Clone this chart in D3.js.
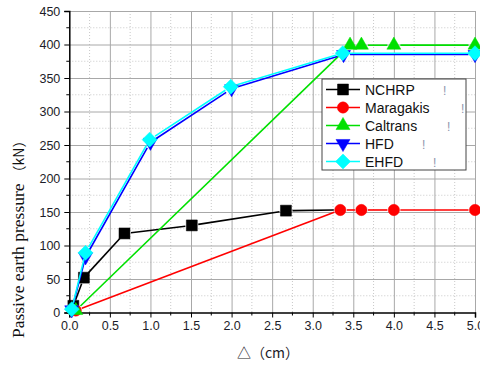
<!DOCTYPE html>
<html>
<head>
<meta charset="utf-8">
<script src="https://cdn.jsdelivr.net/npm/d3@7"></script>
<style>
  body { margin: 0; background: #fff; }
  .tick text { font-family: Arial, "Liberation Sans", sans-serif; font-size: 12.5px; fill: #1c1c28; }
</style>
</head>
<body>
<div id="graph"></div>
<script>
// data
var seriesNames = ["NCHRP", "Maragakis", "Caltrans", "HFD", "EHFD"];
var nchrpX = [0.05, 0.18, 0.68, 1.51, 2.67, 3.34];
var nchrpY = [10, 52, 118, 130, 152, 153];
var maragakisX = [0.08, 3.34, 3.6, 4.0, 5.0];
var maragakisY = [3, 153, 153, 153, 153];
var caltransX = [0.08, 3.46, 3.6, 4.0, 5.0];
var caltransY = [3, 399, 399, 399, 399];
var hfdX = [0.03, 0.2, 1.0, 2.0, 3.38, 5.0];
var hfdY = [4, 83, 254, 334, 385, 385];
var ehfdX = [0.03, 0.2, 0.99, 1.99, 3.37, 5.0];
var ehfdY = [5, 89, 258, 337, 387, 387];
var xTicks = [0, 0.5, 1, 1.5, 2, 2.5, 3, 3.5, 4, 4.5, 5];
var yTicks = [0, 50, 100, 150, 200, 250, 300, 350, 400, 450];

// last NCHRP point sits under the Maragakis circle, so its marker is not drawn
var series = [
  {name: seriesNames[0], xs: nchrpX, ys: nchrpY, color: "#000000", shape: "square", hideLast: true},
  {name: seriesNames[1], xs: maragakisX, ys: maragakisY, color: "#ff0000", shape: "circle"},
  {name: seriesNames[2], xs: caltransX, ys: caltransY, color: "#00e000", shape: "triangle"},
  {name: seriesNames[3], xs: hfdX, ys: hfdY, color: "#0000ff", shape: "down"},
  {name: seriesNames[4], xs: ehfdX, ys: ehfdY, color: "#00ffff", shape: "diamond"}
];

// Set margins
var W = 480, H = 365;
var margin = {top: 11, right: 5, bottom: 52.5, left: 69.3};
var width = W - margin.left - margin.right,
    height = H - margin.top - margin.bottom;

var x = d3.scaleLinear().domain([0, 5]).range([0, width]);
var y = d3.scaleLinear().domain([0, 450]).range([height, 0]);

var svg = d3.select("#graph").append("svg")
    .attr("width", W)
    .attr("height", H)
    .style("display", "block");

var g = svg.append("g")
    .attr("transform", "translate(" + margin.left + "," + margin.top + ")");

// minor grid (dotted)
var minorX = d3.range(0.25, 5, 0.5);
var minorY = d3.range(25, 450, 50);
g.append("g").selectAll("line").data(minorX).enter().append("line")
    .attr("x1", d => x(d)).attr("x2", d => x(d))
    .attr("y1", 0).attr("y2", height)
    .attr("stroke", "#c8c8c8").attr("stroke-dasharray", "1,2");
g.append("g").selectAll("line").data(minorY).enter().append("line")
    .attr("y1", d => y(d)).attr("y2", d => y(d))
    .attr("x1", 0).attr("x2", width)
    .attr("stroke", "#c8c8c8").attr("stroke-dasharray", "1,2");

// major grid
g.append("g").call(d3.axisBottom(x).tickValues(xTicks.slice(1)).tickSize(height).tickFormat(""))
    .call(s => s.select(".domain").remove())
    .selectAll("line").attr("stroke", "#a8a8a8");
g.append("g").call(d3.axisLeft(y).tickValues(yTicks.slice(1)).tickSize(-width).tickFormat(""))
    .call(s => s.select(".domain").remove())
    .selectAll("line").attr("stroke", "#a8a8a8");

// axes
var xAxis = g.append("g").attr("transform", "translate(0," + height + ")")
    .call(d3.axisBottom(x).tickValues(xTicks).tickSize(5).tickPadding(4).tickFormat(d3.format(".1f")));
xAxis.append("g").selectAll("line").data(minorX).enter().append("line")
    .attr("x1", d => x(d)).attr("x2", d => x(d)).attr("y1", 0).attr("y2", 3).attr("stroke", "#000");
var yAxis = g.append("g")
    .call(d3.axisLeft(y).tickValues(yTicks).tickSize(5).tickPadding(4));
yAxis.append("g").selectAll("line").data(minorY).enter().append("line")
    .attr("y1", d => y(d)).attr("y2", d => y(d)).attr("x1", 0).attr("x2", -3).attr("stroke", "#000");
xAxis.selectAll(".tick line").attr("stroke", "#000");
yAxis.selectAll(".tick line").attr("stroke", "#000");
g.selectAll(".domain").attr("stroke", "#000").attr("stroke-width", 1.5);

// marker shapes
function marker(sel, shape, color) {
  var p;
  if (shape === "square") p = d3.symbol(d3.symbolSquare, 120)();
  else if (shape === "circle") p = d3.symbol(d3.symbolCircle, 100)();
  else if (shape === "triangle") p = d3.symbol(d3.symbolTriangle, 85)();
  else if (shape === "down") p = d3.symbol(d3.symbolTriangle, 85)();
  else p = "M0,-7.5L7.5,0L0,7.5L-7.5,0Z";
  sel.append("path").attr("d", p)
    .attr("transform", shape === "down" ? "rotate(180)" : null)
    .attr("fill", color).attr("stroke", color).attr("stroke-width", 0.5);
}

// draw series: segments with a gap near each marker
var gap = 6.5;
series.forEach(function(s) {
  var pts = s.xs.map((v, i) => [x(v), y(s.ys[i])]);
  var segs = [];
  for (var i = 0; i < pts.length - 1; i++) {
    var a = pts[i], b = pts[i + 1];
    var dx = b[0] - a[0], dy = b[1] - a[1], L = Math.sqrt(dx * dx + dy * dy);
    if (L <= 2 * gap) continue;
    var ux = dx / L, uy = dy / L;
    segs.push([[a[0] + ux * gap, a[1] + uy * gap], [b[0] - ux * gap, b[1] - uy * gap]]);
  }
  g.append("g").selectAll("line").data(segs).enter().append("line")
    .attr("x1", d => d[0][0]).attr("y1", d => d[0][1])
    .attr("x2", d => d[1][0]).attr("y2", d => d[1][1])
    .attr("stroke", s.color).attr("stroke-width", 1.6);
  var mpts = s.hideLast ? pts.slice(0, -1) : pts;
  var m = g.append("g").selectAll("g").data(mpts).enter().append("g")
    .attr("transform", d => "translate(" + d[0] + "," + d[1] + ")");
  m.each(function() { marker(d3.select(this), s.shape, s.color); });
});

// legend
var lg = svg.append("g").attr("transform", "translate(322,79)");
lg.append("rect").attr("width", 144).attr("height", 91)
    .attr("fill", "#fff").attr("stroke", "#444").attr("stroke-width", 1);
var junkX = [121, 139, 125, 100, 111];
series.forEach(function(s, i) {
  var row = lg.append("g").attr("transform", "translate(0," + (10.5 + i * 18) + ")");
  row.append("line").attr("x1", 4).attr("x2", 38).attr("stroke", s.color).attr("stroke-width", 1.6);
  var mk = row.append("g").attr("transform", "translate(21,0)");
  marker(mk, s.shape, s.color);
  row.append("text").attr("x", 43).attr("y", 5)
    .style("font-family", "Arial, 'Liberation Sans', sans-serif").style("font-size", "14px")
    .attr("fill", "#111").text(s.name);
  row.append("text").attr("x", junkX[i]).attr("y", 5)
    .style("font-family", "Arial, 'Liberation Sans', sans-serif").style("font-size", "12px")
    .attr("fill", "#8f95ad").text("!");
});

// axis titles
var yt = svg.append("text")
    .attr("transform", "translate(24,338) rotate(-90)")
    .attr("fill", "#111");
yt.append("tspan").style("font-family", "'Liberation Serif', 'Times New Roman', serif").style("font-size", "17.5px")
    .text("Passive earth pressure");
yt.append("tspan").style("font-family", "'Noto Sans CJK SC', sans-serif").style("font-size", "14px")
    .attr("dx", 4)
    .text("（kN）");

svg.append("text")
    .attr("x", 268).attr("y", 358)
    .attr("text-anchor", "middle")
    .style("font-family", "'Noto Sans CJK SC', Arial, sans-serif").style("font-size", "14px")
    .attr("fill", "#1c1c28")
    .text("△（cm）");
</script>
</body>
</html>
